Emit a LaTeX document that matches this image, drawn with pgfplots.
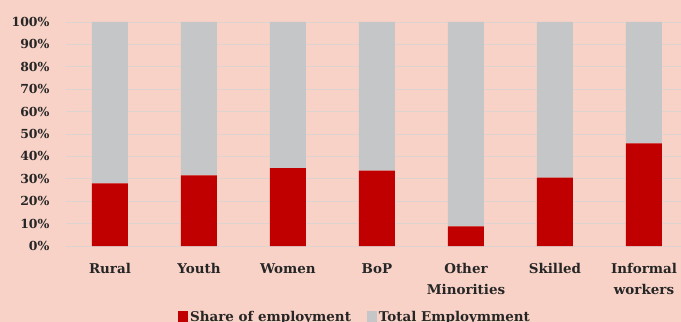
\documentclass[border=0pt]{standalone}
\usepackage{pgfplots}
\pgfplotsset{compat=1.18}
\usepackage{fontspec}
\setmainfont{DejaVu Serif}
\definecolor{bg}{HTML}{F8D2C6}
\definecolor{barred}{HTML}{C00000}
\definecolor{bargray}{HTML}{C5C6C8}
\definecolor{gridc}{HTML}{DDD3D1}
\definecolor{txt}{HTML}{262626}
\begin{document}
\begin{tikzpicture}
\path[use as bounding box] (-66bp,-76bp) rectangle (615bp,246bp);
\clip (-66bp,-76bp) rectangle (615bp,246bp);
\fill[bg] (-66bp,-76bp) rectangle (615bp,246bp);
\begin{axis}[at={(0,0)}, anchor=south west, scale only axis,
  width=615bp, height=224bp,
  xmin=-0.494, xmax=6.416, ymin=0, ymax=100,
  axis line style={draw=none}, major tick length=0pt,
  ymajorgrids, grid style={gridc, line width=0.9bp},
  ybar stacked, bar width=36bp,
  xtick={0,...,6},
  xticklabels={Rural,Youth,Women,BoP,{Other\\Minorities},Skilled,{Informal\\workers}},
  xticklabel style={align=center, font=\fontsize{13.5}{21}\selectfont\bfseries, text=txt, anchor=north, yshift=-14bp},
  ytick={0,10,20,30,40,50,60,70,80,90,100},
  yticklabels={0\%,10\%,20\%,30\%,40\%,50\%,60\%,70\%,80\%,90\%,100\%},
  yticklabel style={font=\fontsize{12.5}{14}\selectfont\bfseries, text=txt, anchor=east, xshift=-13bp},
  legend style={at={(0.47,-0.272)}, anchor=north, legend columns=2, draw=none, fill=none,
    font=\fontsize{13.5}{16}\selectfont\bfseries, text=txt,
    /tikz/every even column/.append style={column sep=14bp}},
  legend image code/.code={\fill[#1] (0bp,-5bp) rectangle (10bp,6bp);},
]
\addplot[fill=barred, draw=none] coordinates {(0,28.0) (1,31.5) (2,34.8) (3,33.6) (4,8.8) (5,30.5) (6,45.8)};
\addplot[fill=bargray, draw=none] coordinates {(0,72.0) (1,68.5) (2,65.2) (3,66.4) (4,91.2) (5,69.5) (6,54.2)};
\legend{Share of employment, Total Employmment}
\end{axis}
\end{tikzpicture}
\end{document}
